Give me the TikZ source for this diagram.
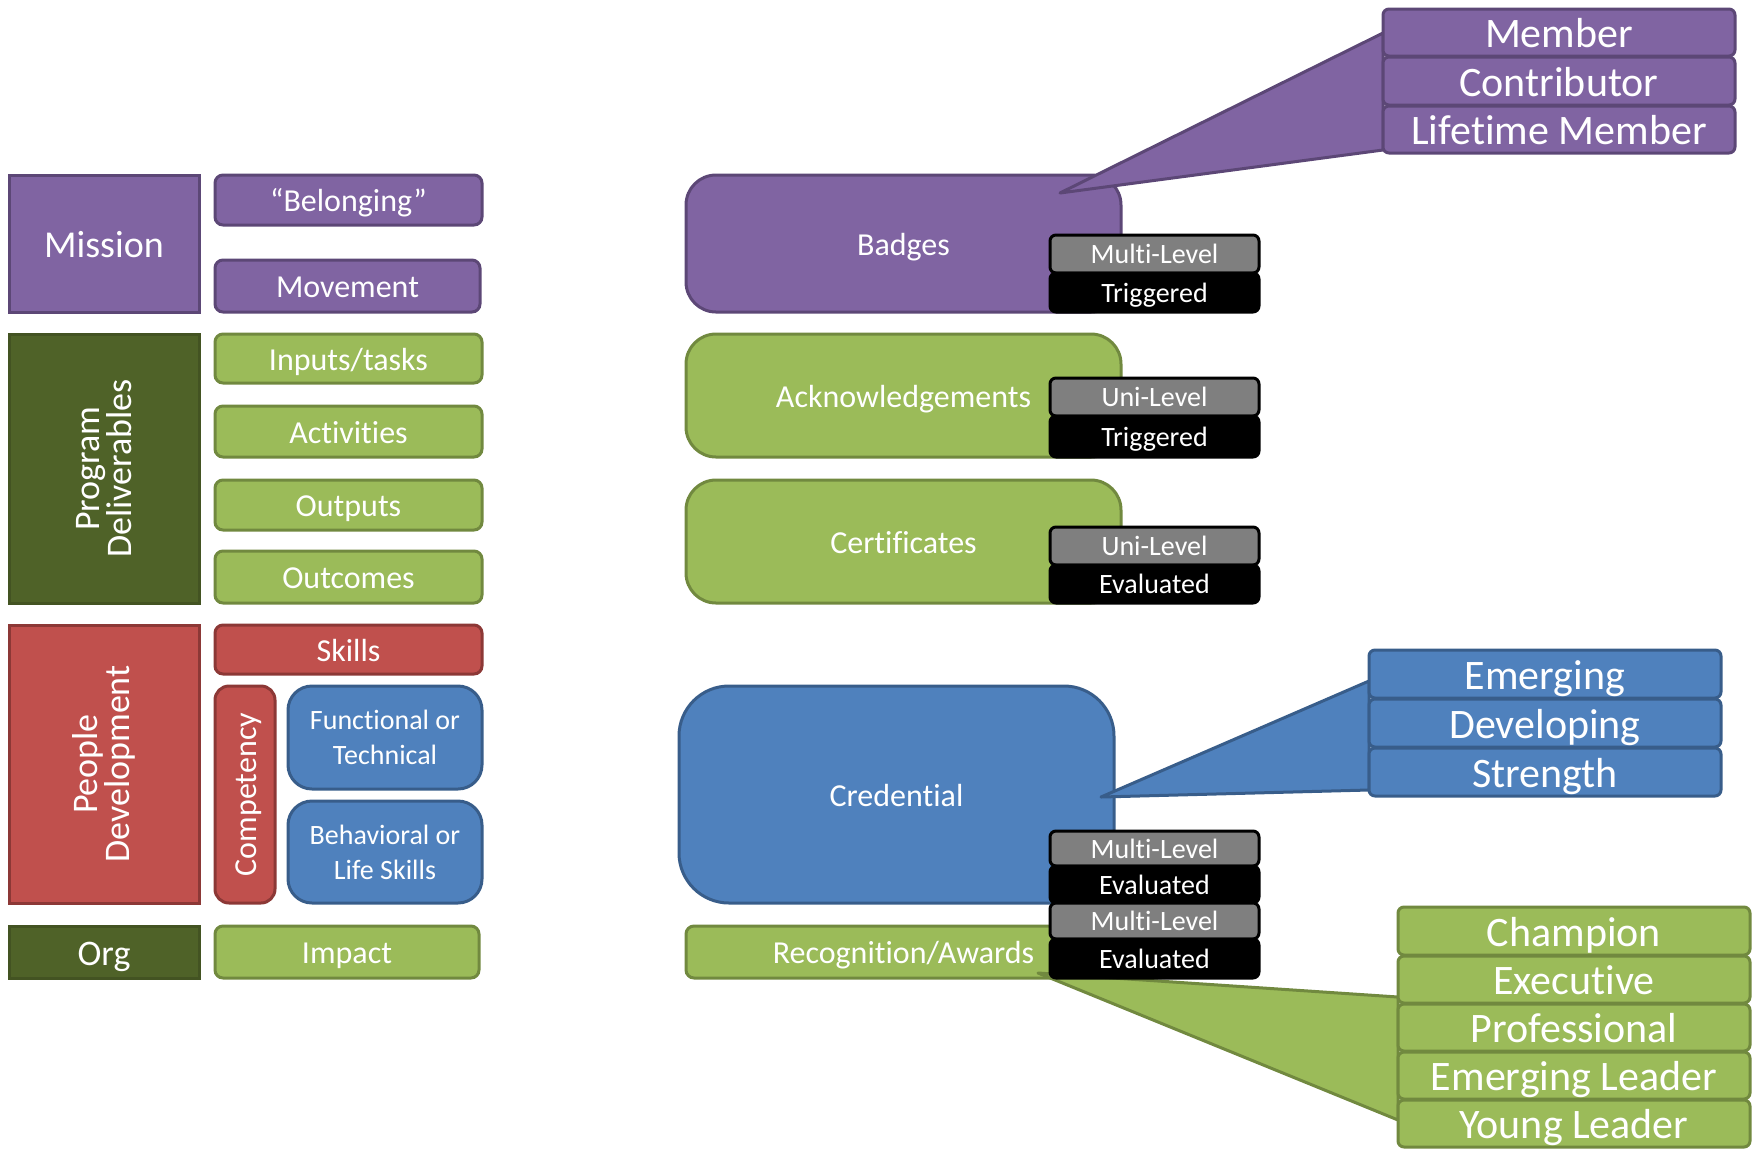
\documentclass[tikz,border=0pt]{standalone}
\usepackage{fontspec}
\setmainfont{Carlito}[Ligatures=NoCommon]
\definecolor{purF}{HTML}{8064A2}
\definecolor{purD}{HTML}{5C4776}
\definecolor{dgrF}{HTML}{4F6228}
\definecolor{dgrD}{HTML}{435322}
\definecolor{lgrF}{HTML}{9BBB59}
\definecolor{lgrD}{HTML}{71893F}
\definecolor{rdF}{HTML}{C0504D}
\definecolor{rdD}{HTML}{8C3836}
\definecolor{bluF}{HTML}{4F81BD}
\definecolor{bluD}{HTML}{385D8A}
\definecolor{tagF}{HTML}{7F7F7F}
% box from corner (x1,y1) to (x2,y2), coordinates in pixels
\newcommand\blk[7]{\node[base,#1,minimum width={(#5-#3)*0.5pt},minimum height={(#6-#4)*0.5pt}] (#2) at ({(#3+#5)/2},{(#4+#6)/2}) {#7};}
% same, with the text turned upright
\newcommand\rblk[7]{\node[base,#1,rotate=90,minimum width={(#6-#4)*0.5pt},minimum height={(#5-#3)*0.5pt}] (#2) at ({(#3+#5)/2},{(#4+#6)/2}) {#7};}
\begin{document}
\begin{tikzpicture}[x=0.5pt,y=-0.5pt,
  base/.style={draw,line width=1.5pt,inner sep=0pt,text=white,align=center,
    font=\fontsize{16}{19}\selectfont,text height=11.5pt,text depth=0pt},
  ml/.style={text height=,text depth=},
  sq/.style={sharp corners},
  rnd/.style={rounded corners=4pt},
  pur/.style={fill=purF,draw=purD},
  dgr/.style={fill=dgrF,draw=dgrD},
  lgr/.style={fill=lgrF,draw=lgrD},
  rd/.style={fill=rdF,draw=rdD},
  blu/.style={fill=bluF,draw=bluD},
  fa/.style={font=\fontsize{19}{21}\selectfont,text height=13.7pt},
  fb/.style={font=\fontsize{18}{16}\selectfont,text height=13pt},
  fc/.style={font=\fontsize{14}{17.5}\selectfont,text height=9.5pt},
  fd/.style={font=\fontsize{21}{23}\selectfont,text height=15.1pt},
  big/.style={rounded corners=15pt},
  cbox/.style={rounded corners=3pt,fd},
  tagg/.style={fill=tagF,draw=black,rounded corners=3pt,fc},
  tagb/.style={fill=black,draw=black,rounded corners=3pt,fc},
  wedge/.style={line width=1.5pt,line join=round}]
\useasboundingbox (0,0) rectangle (1752,1148);

% left column
\blk{sq,pur,fa}{mission}{9}{175}{199}{312}{Mission}
\blk{rnd,pur}{belong}{215}{175}{482}{225}{“Belonging”}
\blk{rnd,pur}{movement}{215}{260}{480}{312}{Movement}
\rblk{sq,dgr,fb,ml}{program}{9}{334}{199}{603}{Program\\Deliverables}
\blk{rnd,lgr}{inputs}{215}{334}{482}{383}{Inputs/tasks}
\blk{rnd,lgr}{activities}{215}{406}{482}{457}{Activities}
\blk{rnd,lgr}{outputs}{215}{480}{482}{530}{Outputs}
\blk{rnd,lgr}{outcomes}{215}{551}{482}{603}{Outcomes}
\rblk{sq,rd,fb,ml}{people}{9}{625}{199}{903}{People\\Development}
\blk{rnd,rd}{skills}{215}{625}{482}{674}{Skills}
\rblk{rd,rounded corners=7pt}{competency}{215}{686}{275}{903}{Competency}
\blk{blu,fc,ml,rounded corners=12pt}{functional}{288}{686}{482}{789}{Functional or\\Technical}
\blk{blu,fc,ml,rounded corners=12pt}{behavioral}{288}{801}{482}{903}{Behavioral or\\Life Skills}
\blk{sq,dgr,fb}{org}{9}{926}{199}{978}{Org}
\blk{rnd,lgr}{impact}{215}{926}{479}{978}{Impact}

% right column
\blk{pur,big}{badges}{686}{175}{1121}{312}{Badges}
\blk{lgr,big}{ack}{686}{334}{1121}{457}{Acknowledgements}
\blk{lgr,big}{cert}{686}{480}{1121}{603}{Certificates}
\blk{blu,rounded corners=25pt}{cred}{679}{686}{1114}{903}{Credential}
\blk{rnd,lgr}{recog}{686}{926}{1121}{978}{Recognition/Awards}

% badge levels
\coordinate (badgetip) at (1060,193);
\coordinate (badgeA) at (1383,33);
\coordinate (badgeB) at (1383,150);
\draw[wedge,pur] (badgetip) -- (badgeA) -- (badgeB) -- cycle;
\blk{cbox,pur}{member}{1383}{9}{1735}{56}{Member}
\blk{cbox,pur}{contrib}{1383}{57}{1735}{105}{Contributor}
\blk{cbox,pur}{lifetime}{1383}{106}{1735}{153}{Lifetime Member}

% credential levels
\coordinate (credtip) at (1101,797);
\coordinate (credA) at (1369,681);
\coordinate (credB) at (1369,790);
\draw[wedge,blu] (credtip) -- (credA) -- (credB) -- cycle;
\blk{cbox,blu}{emerging}{1369}{650}{1721}{698}{Emerging}
\blk{cbox,blu}{developing}{1369}{699}{1721}{747}{Developing}
\blk{cbox,blu}{strength}{1369}{748}{1721}{796}{Strength}

% award levels
\coordinate (awardtip) at (1038,973);
\coordinate (awardA) at (1398,997);
\coordinate (awardB) at (1398,1120);
\draw[wedge,lgr] (awardtip) -- (awardA) -- (awardB) -- cycle;
\blk{cbox,lgr}{champion}{1398}{907}{1750}{955}{Champion}
\blk{cbox,lgr}{executive}{1398}{956}{1750}{1003}{Executive}
\blk{cbox,lgr}{professional}{1398}{1004}{1750}{1051}{Professional}
\blk{cbox,lgr}{emleader}{1398}{1052}{1750}{1099}{Emerging Leader}
\blk{cbox,lgr}{young}{1398}{1100}{1750}{1147}{Young Leader}

% level / trigger tags
\blk{tagg}{tagA}{1050}{235}{1259}{273}{Multi-Level}
\blk{tagb}{tagB}{1050}{273}{1259}{312}{Triggered}
\blk{tagg}{tagC}{1050}{378}{1259}{416}{Uni-Level}
\blk{tagb}{tagD}{1050}{416}{1259}{457}{Triggered}
\blk{tagg}{tagE}{1050}{527}{1259}{565}{Uni-Level}
\blk{tagb}{tagF}{1050}{565}{1259}{603}{Evaluated}
\blk{tagg}{tagG}{1050}{831}{1259}{866}{Multi-Level}
\blk{tagb}{tagH}{1050}{866}{1259}{903}{Evaluated}
\blk{tagg}{tagI}{1050}{903}{1259}{939}{Multi-Level}
\blk{tagb}{tagJ}{1050}{939}{1259}{978}{Evaluated}
\end{tikzpicture}
\end{document}
